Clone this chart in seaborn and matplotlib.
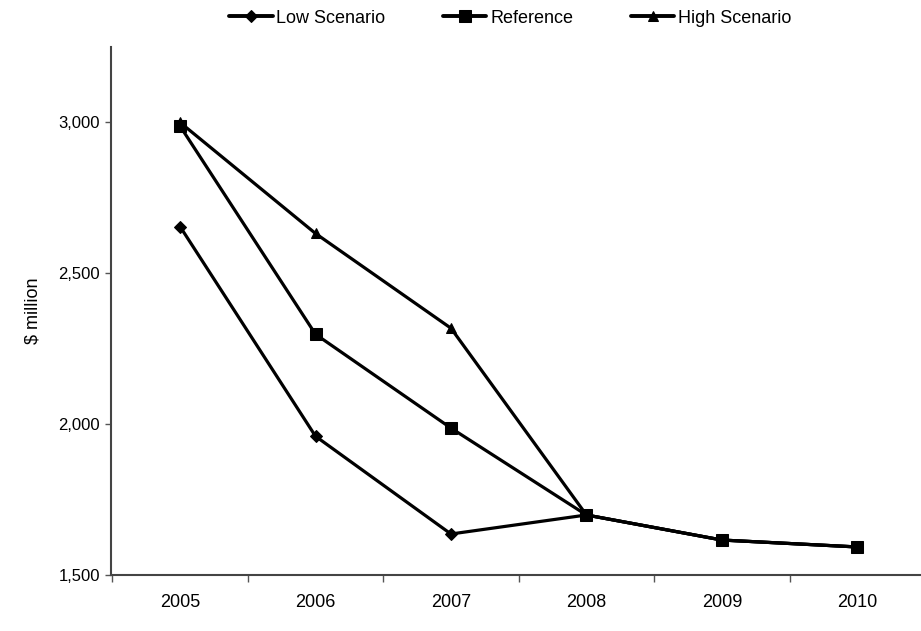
import matplotlib
matplotlib.use("Agg")
import matplotlib.pyplot as plt
import matplotlib.font_manager as fm
import seaborn as sns
import pandas as pd
from matplotlib.ticker import FixedLocator, FuncFormatter

years = ["2005", "2006", "2007", "2008", "2009", "2010"]
low_scenario = [2655, 1960, 1636, 1699, 1616, 1593]
reference = [2988, 2298, 1987, 1699, 1616, 1593]
high_scenario = [3000, 2632, 2318, 1699, 1616, 1593]
series_names = ["Low Scenario", "Reference", "High Scenario"]
y_ticks = [1500, 2000, 2500, 3000]

sns.set_theme(style="white")
names = {f.name for f in fm.fontManager.ttflist}
family = "Liberation Sans Narrow" if "Liberation Sans Narrow" in names else "Liberation Sans"
plt.rcParams["font.family"] = [family, "DejaVu Sans"]
plt.rcParams["text.color"] = "black"
plt.rcParams["xtick.color"] = "black"
plt.rcParams["ytick.color"] = "black"
plt.rcParams["axes.labelcolor"] = "black"

rows = []
for name, vals in zip(series_names, [low_scenario, reference, high_scenario]):
    for i, (yr, v) in enumerate(zip(years, vals)):
        rows.append({"pos": i, "year": yr, "value": v, "series": name})
df = pd.DataFrame(rows)

fig = plt.figure(figsize=(9.21, 6.31), dpi=100)
ax = fig.add_axes([0.1205, 0.0887, 0.8795, 0.8368])

markers = {"Low Scenario": "D", "Reference": "s", "High Scenario": "^"}
sizes_map = {"Low Scenario": 6, "Reference": 9, "High Scenario": 7}
for name in series_names:
    sub = df[df["series"] == name]
    sns.lineplot(data=sub, x="pos", y="value", ax=ax, color="black",
                 linewidth=2.3, marker=markers[name], markersize=sizes_map[name],
                 markeredgecolor="black", markerfacecolor="black", label=name)

ax.set_xlim(-0.51, 5.47)
ax.set_ylim(1500, 3250)

ax.xaxis.set_major_locator(FixedLocator(range(len(years))))
ax.set_xticklabels(years)
ax.xaxis.set_minor_locator(FixedLocator([i - 0.5 for i in range(len(years) + 1)]))
ax.tick_params(axis="x", which="major", length=0, pad=14, labelsize=13)
ax.tick_params(axis="x", which="minor", length=5, width=1, direction="out",
               bottom=True, color="#555555")
ax.set_yticks(y_ticks)
ax.yaxis.set_major_formatter(FuncFormatter(lambda v, p: f"{int(v):,}"))
ax.tick_params(axis="y", length=4, width=1, direction="out", left=True,
               labelsize=12, color="#555555", pad=4)

for s in ["top", "right"]:
    ax.spines[s].set_visible(False)
for s in ["left", "bottom"]:
    ax.spines[s].set_color("#444444")
    ax.spines[s].set_linewidth(1.5)

ax.set_xlabel("")
ax.set_ylabel("$ million", fontsize=13, labelpad=12)

leg = ax.legend(loc="center", bbox_to_anchor=(0.554, 0.971), bbox_transform=fig.transFigure,
                ncol=3, frameon=False, fontsize=13, handlelength=2.4, columnspacing=3.2,
                handletextpad=0.2)
for line in leg.get_lines():
    line.set_linewidth(2.8)

fig.savefig("out.png", dpi=100, facecolor="white")
